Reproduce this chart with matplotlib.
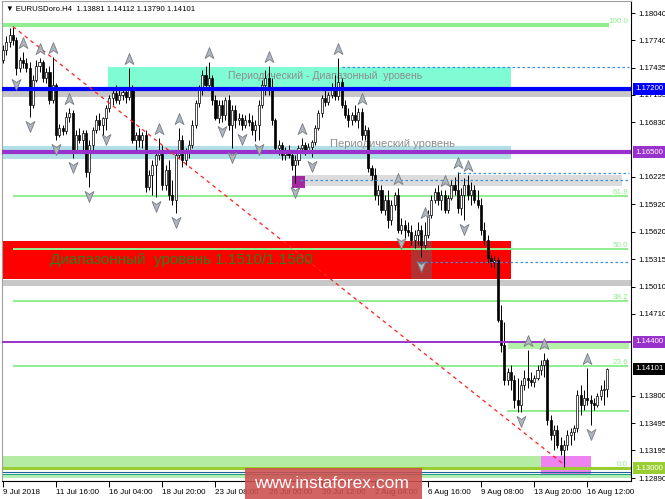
import matplotlib
matplotlib.use("Agg")
import matplotlib.pyplot as plt
import matplotlib.transforms as mtransforms
from matplotlib.patches import Rectangle
from matplotlib.path import Path
import numpy as np

plt.rcParams['font.family'] = ['Liberation Sans', 'DejaVu Sans']

# ---------------- data (EURUSD H4) ----------------
opens = [1.1752, 1.1763, 1.1772, 1.1780, 1.1774, 1.1743, 1.1752, 1.1749, 1.1743, 1.1702,
         1.1730, 1.1745, 1.1750, 1.1732, 1.1739, 1.1708, 1.1724, 1.1669, 1.1677, 1.1673,
         1.1689, 1.1693, 1.1652, 1.1669, 1.1663, 1.1671, 1.1628, 1.1658, 1.1674, 1.1686,
         1.1680, 1.1688, 1.1699, 1.1710, 1.1715, 1.1708, 1.1713, 1.1717, 1.1711, 1.1719,
         1.1663, 1.1669, 1.1663, 1.1669, 1.1611, 1.1625, 1.1636, 1.1647, 1.1652, 1.1614,
         1.1630, 1.1602, 1.1597, 1.1647, 1.1663, 1.1641, 1.1650, 1.1658, 1.1680, 1.1704,
         1.1719, 1.1735, 1.1724, 1.1732, 1.1708, 1.1688, 1.1702, 1.1691, 1.1708, 1.1680,
         1.1697, 1.1686, 1.1688, 1.1680, 1.1686, 1.1683, 1.1674, 1.1680, 1.1702, 1.1724,
         1.1732, 1.1719, 1.1686, 1.1655, 1.1658, 1.1647, 1.1652, 1.1647, 1.1636, 1.1641,
         1.1655, 1.1658, 1.1652, 1.1656, 1.1661, 1.1677, 1.1693, 1.1710, 1.1705, 1.1713,
         1.1721, 1.1712, 1.1728, 1.1702, 1.1691, 1.1686, 1.1691, 1.1686, 1.1694, 1.1669,
         1.1674, 1.1632, 1.1625, 1.1602, 1.1608, 1.1586, 1.1597, 1.1575, 1.1591, 1.1602,
         1.1564, 1.1569, 1.1564, 1.1562, 1.1553, 1.1558, 1.1564, 1.1547, 1.1558, 1.1580,
         1.1597, 1.1606, 1.1597, 1.1602, 1.1586, 1.1599, 1.1614, 1.1608, 1.1588, 1.1602,
         1.1614, 1.1602, 1.1608, 1.1597, 1.1591, 1.1564, 1.1553, 1.1533, 1.1528, 1.1530,
         1.1464, 1.1436, 1.1398, 1.1406, 1.1398, 1.1375, 1.1370, 1.1392, 1.1400, 1.1398,
         1.1395, 1.1400, 1.1409, 1.1414, 1.1420, 1.1353, 1.1337, 1.1342, 1.1326, 1.1320,
         1.1326, 1.1337, 1.1340, 1.1344, 1.1381, 1.1370, 1.1378, 1.1375, 1.1372, 1.1370,
         1.1380, 1.1387, 1.13881]

highs = [1.1769, 1.1779, 1.1787, 1.1789, 1.1777, 1.1755, 1.1761, 1.1754, 1.1750, 1.1735,
         1.1752, 1.1754, 1.1752, 1.1743, 1.1745, 1.1755, 1.1727, 1.1681, 1.1680, 1.1694,
         1.1699, 1.1697, 1.1674, 1.1677, 1.1674, 1.1674, 1.1663, 1.1678, 1.1691, 1.1693,
         1.1689, 1.1702, 1.1713, 1.1721, 1.1724, 1.1719, 1.1721, 1.1722, 1.1743, 1.1724,
         1.1672, 1.1677, 1.1672, 1.1674, 1.1630, 1.1641, 1.1652, 1.1666, 1.1658, 1.1636,
         1.1641, 1.1619, 1.1652, 1.1677, 1.1669, 1.1655, 1.1663, 1.1686, 1.1708, 1.1724,
         1.1741, 1.1745, 1.1750, 1.1735, 1.1713, 1.1708, 1.1708, 1.1711, 1.1713, 1.1702,
         1.1702, 1.1693, 1.1692, 1.1691, 1.1693, 1.1691, 1.1686, 1.1708, 1.1730, 1.1741,
         1.1745, 1.1732, 1.1688, 1.1663, 1.1661, 1.1656, 1.1658, 1.1652, 1.1647, 1.1658,
         1.1666, 1.1661, 1.1660, 1.1663, 1.1680, 1.1697, 1.1713, 1.1719, 1.1717, 1.1727,
         1.1735, 1.1754, 1.1732, 1.1708, 1.1699, 1.1694, 1.1702, 1.1699, 1.1699, 1.1680,
         1.1678, 1.1636, 1.1632, 1.1614, 1.1614, 1.1602, 1.1608, 1.1597, 1.1606, 1.1610,
         1.1577, 1.1575, 1.1573, 1.1569, 1.1564, 1.1573, 1.1569, 1.1573, 1.1586, 1.1602,
         1.1610, 1.1614, 1.1608, 1.1608, 1.1602, 1.1619, 1.1622, 1.1628, 1.1610, 1.1621,
         1.1625, 1.1617, 1.1614, 1.1608, 1.1599, 1.1573, 1.1558, 1.1536, 1.1535, 1.1534,
         1.1481, 1.1462, 1.1411, 1.1414, 1.1403, 1.1400, 1.1398, 1.1409, 1.1431, 1.1406,
         1.1403, 1.1414, 1.1420, 1.1428, 1.1422, 1.1359, 1.1348, 1.1348, 1.1334, 1.1331,
         1.1342, 1.1344, 1.1348, 1.1387, 1.1392, 1.1387, 1.1411, 1.1381, 1.1378, 1.1383,
         1.1392, 1.1398, 1.14112]

lows = [1.1749, 1.1758, 1.1766, 1.1769, 1.1735, 1.1739, 1.1743, 1.1739, 1.1689, 1.1699,
        1.1728, 1.1739, 1.1728, 1.1727, 1.1703, 1.1704, 1.1663, 1.1667, 1.1669, 1.1670,
        1.1683, 1.1643, 1.1649, 1.1660, 1.1652, 1.1622, 1.1611, 1.1652, 1.1671, 1.1674,
        1.1667, 1.1674, 1.1694, 1.1702, 1.1704, 1.1703, 1.1708, 1.1704, 1.1708, 1.1660,
        1.1652, 1.1656, 1.1655, 1.1606, 1.1608, 1.1602, 1.1600, 1.1641, 1.1608, 1.1608,
        1.1597, 1.1591, 1.1583, 1.1643, 1.1633, 1.1636, 1.1643, 1.1655, 1.1677, 1.1700,
        1.1713, 1.1719, 1.1719, 1.1702, 1.1686, 1.1682, 1.1683, 1.1686, 1.1674, 1.1655,
        1.1677, 1.1680, 1.1674, 1.1677, 1.1679, 1.1669, 1.1662, 1.1663, 1.1699, 1.1713,
        1.1713, 1.1680, 1.1650, 1.1647, 1.1641, 1.1641, 1.1643, 1.1630, 1.1616, 1.1636,
        1.1650, 1.1647, 1.1649, 1.1645, 1.1658, 1.1674, 1.1689, 1.1701, 1.1702, 1.1710,
        1.1708, 1.1708, 1.1699, 1.1688, 1.1678, 1.1680, 1.1683, 1.1677, 1.1663, 1.1663,
        1.1628, 1.1619, 1.1597, 1.1591, 1.1583, 1.1580, 1.1566, 1.1569, 1.1586, 1.1560,
        1.1559, 1.1555, 1.1557, 1.1547, 1.1544, 1.1547, 1.1534, 1.1544, 1.1555, 1.1577,
        1.1594, 1.1591, 1.1586, 1.1583, 1.1583, 1.1597, 1.1602, 1.1583, 1.1580, 1.1575,
        1.1597, 1.1591, 1.1594, 1.1588, 1.1558, 1.1547, 1.1528, 1.1523, 1.1522, 1.1462,
        1.1429, 1.1392, 1.1392, 1.1387, 1.1367, 1.1362, 1.1362, 1.1387, 1.1389, 1.1391,
        1.1390, 1.1398, 1.1403, 1.1401, 1.1348, 1.1331, 1.1320, 1.1322, 1.1315, 1.1301,
        1.1320, 1.1326, 1.1331, 1.1340, 1.1359, 1.1364, 1.1370, 1.1348, 1.1364, 1.1368,
        1.1375, 1.1370, 1.13790]

closes = [1.1763, 1.1772, 1.1780, 1.1774, 1.1743, 1.1752, 1.1749, 1.1743, 1.1702, 1.1730,
          1.1745, 1.1750, 1.1732, 1.1739, 1.1708, 1.1724, 1.1669, 1.1677, 1.1673, 1.1689,
          1.1693, 1.1652, 1.1669, 1.1663, 1.1671, 1.1628, 1.1658, 1.1674, 1.1686, 1.1680,
          1.1688, 1.1699, 1.1710, 1.1715, 1.1708, 1.1713, 1.1717, 1.1711, 1.1719, 1.1663,
          1.1669, 1.1663, 1.1669, 1.1611, 1.1625, 1.1636, 1.1647, 1.1652, 1.1614, 1.1630,
          1.1602, 1.1597, 1.1647, 1.1663, 1.1641, 1.1650, 1.1658, 1.1680, 1.1704, 1.1719,
          1.1735, 1.1724, 1.1732, 1.1708, 1.1688, 1.1702, 1.1691, 1.1708, 1.1680, 1.1697,
          1.1686, 1.1688, 1.1680, 1.1686, 1.1683, 1.1674, 1.1680, 1.1702, 1.1724, 1.1732,
          1.1719, 1.1686, 1.1655, 1.1658, 1.1647, 1.1652, 1.1647, 1.1636, 1.1641, 1.1655,
          1.1658, 1.1652, 1.1656, 1.1661, 1.1677, 1.1693, 1.1710, 1.1705, 1.1713, 1.1721,
          1.1712, 1.1728, 1.1702, 1.1691, 1.1686, 1.1691, 1.1686, 1.1694, 1.1669, 1.1674,
          1.1632, 1.1625, 1.1602, 1.1608, 1.1586, 1.1597, 1.1575, 1.1591, 1.1602, 1.1564,
          1.1569, 1.1564, 1.1562, 1.1553, 1.1558, 1.1564, 1.1547, 1.1558, 1.1580, 1.1597,
          1.1606, 1.1597, 1.1602, 1.1586, 1.1599, 1.1614, 1.1608, 1.1588, 1.1602, 1.1614,
          1.1602, 1.1608, 1.1597, 1.1591, 1.1564, 1.1553, 1.1533, 1.1528, 1.1530, 1.1464,
          1.1436, 1.1398, 1.1406, 1.1398, 1.1375, 1.1370, 1.1392, 1.1400, 1.1398, 1.1395,
          1.1400, 1.1409, 1.1414, 1.1420, 1.1353, 1.1337, 1.1342, 1.1326, 1.1320, 1.1326,
          1.1337, 1.1340, 1.1344, 1.1381, 1.1370, 1.1378, 1.1375, 1.1372, 1.1370, 1.1380,
          1.1387, 1.13881, 1.14101]

# fractal arrows (bar indices)
up_fractals = [6, 11, 15, 20, 38, 47, 53, 62, 80, 90, 101, 108, 119, 127, 133, 137, 140, 158, 163, 176]
down_fractals = [4, 8, 16, 21, 26, 31, 46, 52, 66, 69, 72, 77, 88, 93, 120, 126, 139, 156, 177]

x_tick_bars = [0, 16, 32, 48, 64, 80, 96, 112, 128, 144, 160, 176]
x_tick_labels = ["9 Jul 2018", "11 Jul 16:00", "16 Jul 04:00", "18 Jul 20:00", "23 Jul 08:00",
                 "26 Jul 00:00", "30 Jul 12:00", "2 Aug 04:00", "6 Aug 16:00", "9 Aug 08:00",
                 "13 Aug 20:00", "16 Aug 12:00"]
y_tick_values = [1.18040, 1.17740, 1.17435, 1.17135, 1.16830, 1.16225, 1.15920, 1.15620,
                 1.15315, 1.15010, 1.14710, 1.13800, 1.13495, 1.13195, 1.12890]

fib_names = ["100.0", "61.8", "50.0", "38.2", "23.6", "0.0"]
fib_prices = [1.1791, 1.1601, 1.1543, 1.1485, 1.1413, 1.1300]

level_blue = 1.1720
level_purple_hi = 1.1650
level_purple_lo = 1.1440
level_olive = 1.1300
last_price = 1.14101

trend_bars = [3, 169.3]
trend_prices = [1.1789, 1.1303]

# zones: (bar_start, bar_end, price_low, price_high, color)
zones = [
    (31.6, 153.0, 1.1721, 1.1744, '#80fcd4'),     # periodic-range zone
    (-1, 190, 1.1711, 1.1719, '#c8c8c8'),
    (-1, 153.0, 1.1642, 1.1657, '#b0e0e6'),       # periodic level band
    (87.0, 186.4, 1.1612, 1.1625, '#dcdcdc'),
    (-1, 153.0, 1.1509, 1.1552, '#ff0000'),       # range level 1.1510/1.1560
    (-1, 190, 1.1502, 1.1508, '#c8c8c8'),
    (152.1, 188.5, 1.1432, 1.1439, '#b4f0a8'),
    (-1, 162.0, 1.1301, 1.1313, '#b4eca4'),
    (162.0, 177.1, 1.1289, 1.1313, '#ee82ee'),
    (-1, 190, 1.1289, 1.1292, '#b4f0b4'),
]
dark_zone = (122.9, 129.2, 1.1509, 1.1552)
magenta_zone = (87.0, 91.0, 1.1610, 1.1623)

dotted_levels = [(102.1, 1.1744), (137.0, 1.1627), (89.5, 1.1619), (125.6, 1.1528)]

# ---------------- figure ----------------
W, H = 665, 499
fig = plt.figure(figsize=(W / 100, H / 100), dpi=100)
fig.patch.set_facecolor('white')
ax = fig.add_axes([2 / W, 18 / H, 629 / W, 480 / H])
ax.set_xlim(-0.3, 189.16)
ax.set_ylim(1.12857, 1.18173)

for x0, x1, p0, p1, col in zones:
    ax.add_patch(Rectangle((x0, p0), x1 - x0, p1 - p0, facecolor=col, edgecolor='none', zorder=1))
ax.add_patch(Rectangle((dark_zone[0], dark_zone[2]), dark_zone[1] - dark_zone[0],
                       dark_zone[3] - dark_zone[2], facecolor='#a83a3a', alpha=0.85,
                       edgecolor='none', zorder=1.2))
ax.add_patch(Rectangle((magenta_zone[0], magenta_zone[2]), magenta_zone[1] - magenta_zone[0],
                       magenta_zone[3] - magenta_zone[2], facecolor='#a4289e',
                       edgecolor='none', zorder=1.2))

# zone texts
ax.text(67.8, 1.1734, "Периодический - Диапазонный  уровень", fontsize=7.5, color='#8c8c8c',
        ha='left', va='center', zorder=1.5)
ax.text(98.5, 1.1659, "Периодический уровень", fontsize=8, color='#8c8c8c',
        ha='left', va='center', zorder=1.5)
ax.text(14.2, 1.1530, "Диапазонный  уровень 1.1510/1.1560", fontsize=11, color='#2e7d1e',
        ha='left', va='center', zorder=1.5)

# fibonacci levels
for i, (name, p) in enumerate(zip(fib_names, fib_prices)):
    if i == 0:
        ax.plot([-0.3, 182.5], [p, p], color='#90ee90', lw=3.0, solid_capstyle='butt', zorder=2)
    else:
        ax.plot([3, 188.3], [p, p], color='#90ee90', lw=1.4, solid_capstyle='butt', zorder=2)
    ax.text(188.3, p, name, fontsize=5.8, color='#90ee90', ha='right', va='bottom', zorder=2)

ax.plot([152.1, 188.3], [1.1363, 1.1363], color='#90ee90', lw=1.4, zorder=2)

# bottom lines
ax.axhline(level_olive, color='#9acd32', lw=2.2, zorder=2.5)
ax.axhline(1.12953, color='#2060a0', lw=0.8, zorder=2.5)
ax.axhline(1.12937, color='#20a080', lw=0.8, zorder=2.5)

# candles
x = np.arange(len(closes))
o = np.array(opens); h = np.array(highs); l = np.array(lows); c = np.array(closes)
ax.vlines(x, l, h, color='black', lw=0.7, zorder=3)
bull = c >= o
bw = 0.62
ax.bar(x[bull], np.maximum(c[bull] - o[bull], 0.00002), bottom=o[bull], width=bw,
       facecolor='white', edgecolor='black', linewidth=0.5, zorder=3.2)
ax.bar(x[~bull], o[~bull] - c[~bull], bottom=c[~bull], width=bw,
       facecolor='black', edgecolor='black', linewidth=0.5, zorder=3.2)

# horizontal level lines
ax.axhline(level_blue, color='#0000ff', lw=3.0, zorder=4)
ax.axhline(level_purple_hi, color='#9932cc', lw=3.0, zorder=4)
ax.axhline(level_purple_lo, color='#9932cc', lw=1.4, zorder=4)

for x0, p in dotted_levels:
    ax.plot([x0, 188.5], [p, p], color='#3a8ee6', lw=0.9, ls=(0, (2, 2)), zorder=4)

ax.plot(trend_bars, trend_prices, color='#ff2020', lw=0.9, ls=(0, (3, 3)), zorder=4)

# fractal arrows
up_path = Path([(0, 1), (0.75, -0.85), (0, -0.35), (-0.75, -0.85), (0, 1)],
               [Path.MOVETO, Path.LINETO, Path.LINETO, Path.LINETO, Path.CLOSEPOLY])
down_path = Path([(0, -1), (0.75, 0.85), (0, 0.35), (-0.75, 0.85), (0, -1)],
                 [Path.MOVETO, Path.LINETO, Path.LINETO, Path.LINETO, Path.CLOSEPOLY])
tr_up = mtransforms.offset_copy(ax.transData, fig=fig, x=0, y=9, units='dots')
tr_dn = mtransforms.offset_copy(ax.transData, fig=fig, x=0, y=-9, units='dots')
ax.plot(up_fractals, h[up_fractals], ls='none', marker=up_path, markersize=8.5,
        mfc='#b0b6be', mec='#767c84', mew=0.6, transform=tr_up, zorder=6)
ax.plot(down_fractals, l[down_fractals], ls='none', marker=down_path, markersize=8.5,
        mfc='#b0b6be', mec='#767c84', mew=0.6, transform=tr_dn, zorder=6)

# axes styling
for s in ['left', 'top']:
    ax.spines[s].set_color('#a0a0a0')
    ax.spines[s].set_linewidth(0.8)
for s in ['right', 'bottom']:
    ax.spines[s].set_color('black')
    ax.spines[s].set_linewidth(0.8)

ax.yaxis.tick_right()
ax.set_yticks(y_tick_values)
ax.set_yticklabels([f"{v:.5f}" for v in y_tick_values])
ax.tick_params(axis='y', direction='out', length=3, pad=2, labelsize=5.6, width=0.7)
ax.set_xticks(x_tick_bars)
ax.set_xticklabels(x_tick_labels)
ax.tick_params(axis='x', direction='out', length=4, pad=2, labelsize=5.8, width=0.7)
for lbl in ax.get_xticklabels():
    lbl.set_horizontalalignment('left')

# price boxes on the right axis
btrans = mtransforms.blended_transform_factory(ax.transAxes, ax.transData)
for p, bg in [(level_blue, '#0000ff'), (level_purple_hi, '#9932cc'),
              (level_purple_lo, '#9932cc'), (last_price, '#000000'), (level_olive, '#9acd32')]:
    ax.text(1.0 + 4 / 629, p, f"{p:.5f}", transform=btrans, ha='left', va='center',
            fontsize=5.6, color='white', clip_on=False, zorder=10,
            bbox=dict(boxstyle='square,pad=0.3', facecolor=bg, edgecolor='none'))

# title
ax.text(4 / 629, 1 - 8 / 480, "▼ EURUSDoro.H4  1.13881 1.14112 1.13790 1.14101",
        transform=ax.transAxes, fontsize=5.6, color='black', ha='left', va='center', zorder=10)

# watermark
fig.add_artist(Rectangle((245 / W, 0), 177 / W, 31 / H, transform=fig.transFigure,
                         facecolor='#cd4f4f', alpha=0.88, edgecolor='none', zorder=20))
fig.text(331 / W, 15 / H, "www.instaforex.com", color='white', fontsize=12.5,
         ha='center', va='center', zorder=21)

fig.savefig("out.png", dpi=100)
